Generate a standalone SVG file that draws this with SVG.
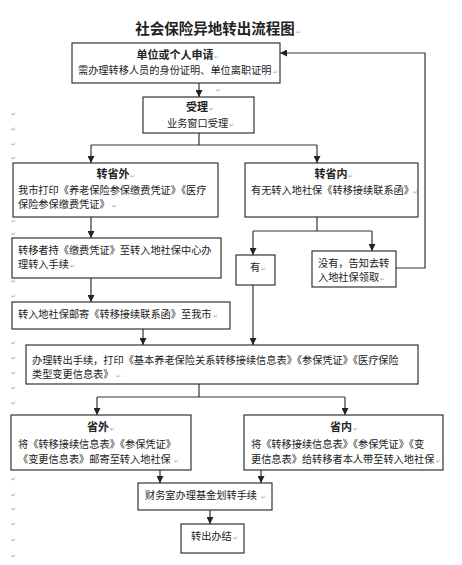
<svg xmlns="http://www.w3.org/2000/svg" width="462" height="565" viewBox="0 0 462 565">
<defs>
<marker id="ah" markerWidth="7" markerHeight="7" refX="7" refY="3.5" orient="auto" markerUnits="userSpaceOnUse">
<path d="M0,0 L7,3.5 L0,7 z" fill="#222"/>
</marker>
<style>
rect.b{fill:#fff;stroke:#333;stroke-width:1.2}
text{font-family:"Noto Sans CJK SC","Noto Sans",sans-serif;fill:#222}
.t{font-size:10.2px}
.h{font-size:11px;font-weight:bold;text-anchor:middle}
.ttl{font-size:14.5px;font-weight:bold;text-anchor:middle}
.r{font-family:"DejaVu Sans",sans-serif;font-size:6px;fill:#aaa}
#conn path{fill:none;stroke:#333;stroke-width:1.2}
</style>
</defs>
<rect width="462" height="565" fill="#fff"/>
<text class="ttl" x="215" y="34">社会保险异地转出流程图</text>
<text class="r" x="296" y="34">↵</text>

<g id="conn">
<path d="M199,83 V97" marker-end="url(#ah)"/>
<path d="M199,133 V145"/>
<path d="M91,145 H317"/>
<path d="M91,145 V163" marker-end="url(#ah)"/>
<path d="M317,145 V163" marker-end="url(#ah)"/>
<path d="M91,217 V238" marker-end="url(#ah)"/>
<path d="M317,217 V231"/>
<path d="M253,231 H372"/>
<path d="M253,231 V255" marker-end="url(#ah)"/>
<path d="M372,231 V251" marker-end="url(#ah)"/>
<path d="M396,268 H425 V53 H280" marker-end="url(#ah)"/>
<path d="M91,278 V302" marker-end="url(#ah)"/>
<path d="M143,329 V345" marker-end="url(#ah)"/>
<path d="M253,285 V345" marker-end="url(#ah)"/>
<path d="M199,384 V397"/>
<path d="M97,397 H345"/>
<path d="M97,397 V415" marker-end="url(#ah)"/>
<path d="M345,397 V415" marker-end="url(#ah)"/>
<path d="M160,470 V483" marker-end="url(#ah)"/>
<path d="M261,470 V483" marker-end="url(#ah)"/>
<path d="M210,510 V524" marker-end="url(#ah)"/>
</g>

<g id="n1">
<rect class="b" x="72" y="43" width="208" height="40"/>
<text class="h" x="175" y="59">单位或个人申请</text>
<text class="r" x="214" y="59">↵</text>
<text class="t" x="78" y="74">需办理转移人员的身份证明、单位离职证明</text>
<text class="r" x="273" y="74">↵</text>
</g>

<g id="n2">
<rect class="b" x="143" y="97" width="111" height="36"/>
<text class="h" x="197" y="111">受理</text>
<text class="r" x="209" y="111">↵</text>
<text class="t" x="167" y="127">业务窗口受理</text>
<text class="r" x="229" y="127">↵</text>
</g>

<g id="n3">
<rect class="b" x="13" y="163" width="205" height="54"/>
<text class="h" x="113" y="178">转省外</text>
<text class="r" x="130" y="178">↵</text>
<text class="t" x="18" y="194">我市打印《养老保险参保缴费凭证》《医疗</text>
<text class="t" x="18" y="208">保险参保缴费凭证》</text>
<text class="r" x="112" y="208">↵</text>
</g>

<g id="n4">
<rect class="b" x="245" y="163" width="173" height="54"/>
<text class="h" x="331" y="178">转省内</text>
<text class="r" x="348" y="178">↵</text>
<text class="t" x="251" y="194">有无转入地社保《转移接续联系函》</text>
<text class="r" x="413" y="194">↵</text>
</g>

<g id="n5">
<rect class="b" x="12" y="238" width="209" height="40"/>
<text class="t" x="18" y="254">转移者持《缴费凭证》至转入地社保中心办</text>
<text class="t" x="18" y="268">理转入手续</text>
<text class="r" x="70" y="268">↵</text>
</g>

<g id="n6">
<rect class="b" x="236" y="255" width="39" height="30"/>
<text class="t" x="250" y="271">有</text>
<text class="r" x="261" y="271">↵</text>
</g>

<g id="n7">
<rect class="b" x="312" y="251" width="84" height="36"/>
<text class="t" x="318" y="267">没有，告知去转</text>
<text class="t" x="318" y="281">入地社保领取</text>
<text class="r" x="380" y="281">↵</text>
</g>

<g id="n8">
<rect class="b" x="12" y="302" width="218" height="27"/>
<text class="t" x="18" y="318">转入地社保邮寄《转移接续联系函》至我市</text>
<text class="r" x="213" y="318">↵</text>
</g>

<g id="n9">
<rect class="b" x="26" y="345" width="392" height="39"/>
<text class="t" x="32" y="364">办理转出手续，打印《基本养老保险关系转移接续信息表》《参保凭证》《医疗保险</text>
<text class="t" x="32" y="378">类型变更信息表》</text>
<text class="r" x="116" y="378">↵</text>
</g>

<g id="n10">
<rect class="b" x="11" y="415" width="180" height="55"/>
<text class="h" x="98" y="431">省外</text>
<text class="r" x="110" y="431">↵</text>
<text class="t" x="18" y="448">将《转移接续信息表》《参保凭证》</text>
<text class="t" x="18" y="463">《变更信息表》邮寄至转入地社保</text>
<text class="r" x="174" y="463">↵</text>
</g>

<g id="n11">
<rect class="b" x="244" y="415" width="199" height="55"/>
<text class="h" x="341" y="431">省内</text>
<text class="r" x="353" y="431">↵</text>
<text class="t" x="251" y="448">将《转移接续信息表》《参保凭证》《变</text>
<text class="t" x="251" y="463">更信息表》给转移者本人带至转入地社保</text>
<text class="r" x="436" y="463">↵</text>
</g>

<g id="n12">
<rect class="b" x="138" y="483" width="134" height="27"/>
<text class="t" x="145" y="499">财务室办理基金划转手续</text>
<text class="r" x="261" y="499">↵</text>
</g>

<g id="n13">
<rect class="b" x="181" y="524" width="63" height="29"/>
<text class="t" x="191" y="540">转出办结</text>
<text class="r" x="233" y="540">↵</text>
</g>

<g id="marks">
<text class="r" x="216" y="92">↵</text>
<text class="r" x="11" y="116">↵</text>
<text class="r" x="11" y="131">↵</text>
<text class="r" x="11" y="146">↵</text>
<text class="r" x="11" y="160">↵</text>
<text class="r" x="11" y="223">↵</text>
<text class="r" x="11" y="236">↵</text>
<text class="r" x="11" y="283">↵</text>
<text class="r" x="11" y="298">↵</text>
<text class="r" x="11" y="345">↵</text>
<text class="r" x="11" y="360">↵</text>
<text class="r" x="11" y="375">↵</text>
<text class="r" x="11" y="390">↵</text>
<text class="r" x="11" y="405">↵</text>
<text class="r" x="11" y="481">↵</text>
<text class="r" x="11" y="497">↵</text>
<text class="r" x="11" y="511">↵</text>
<text class="r" x="11" y="526">↵</text>
<text class="r" x="11" y="542">↵</text>
<text class="r" x="11" y="558">↵</text>
</g>
</svg>
